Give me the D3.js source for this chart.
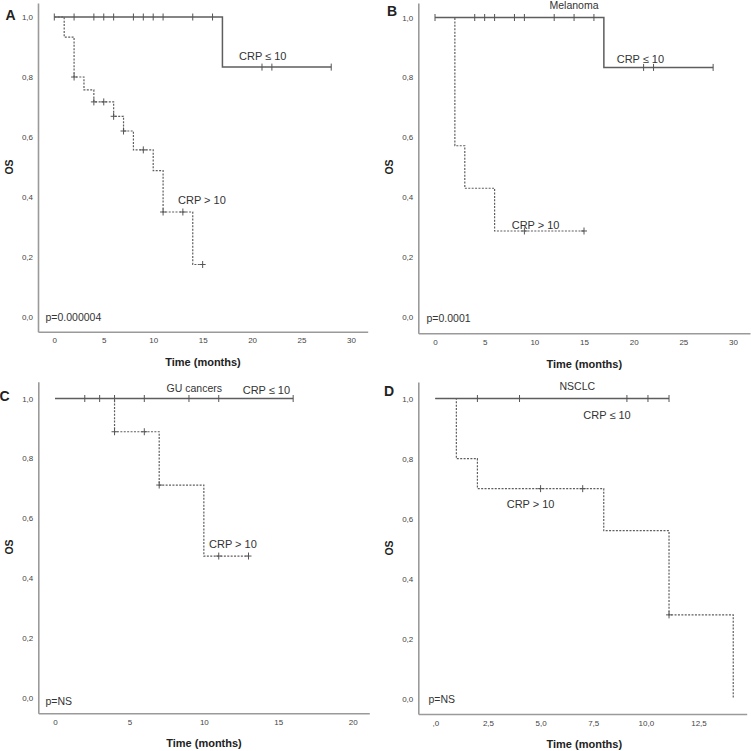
<!DOCTYPE html>
<html><head><meta charset="utf-8">
<script src="https://cdn.jsdelivr.net/npm/d3@7"></script>
<style>body{margin:0;background:#fff}svg{display:block;font-family:"Liberation Sans",Arial,sans-serif}</style>
</head><body><svg id="c" width="751" height="751"></svg>
<script>
// ---------- data ----------
const yTickValues = [0, 0.2, 0.4, 0.6, 0.8, 1.0];
const yTickLabels = ["0,0", "0,2", "0,4", "0,6", "0,8", "1,0"];
const xTicksAB = [0, 5, 10, 15, 20, 25, 30];
const xTickLabelsAB = ["0", "5", "10", "15", "20", "25", "30"];
const xTicksC = [0, 5, 10, 15, 20];
const xTickLabelsC = ["0", "5", "10", "15", "20"];
const xTicksD = [0, 2.5, 5, 7.5, 10, 12.5];
const xTickLabelsD = [",0", "2,5", "5,0", "7,5", "10,0", "12,5"];

// Panel A (all patients)
const aLowTimes = [17];
const aLowSurv = [0.833];
const aLowCens = [0, 2, 4, 5, 6, 8, 9, 10, 11, 14, 16, 21, 22, 28];
const aLowEnd = 28;
const aHighTimes = [1, 2, 3, 4, 6, 7, 8, 10, 11, 14];
const aHighSurv = [0.933, 0.80, 0.757, 0.717, 0.669, 0.62, 0.557, 0.488, 0.35, 0.175];
const aHighCens = [2, 4, 5, 6, 7, 9, 11, 13, 15];
const aHighEnd = 15;

// Panel B (melanoma)
const bLowTimes = [17];
const bLowSurv = [0.833];
const bLowCens = [0, 4, 5, 6, 8, 9, 12, 14, 16, 21, 22, 28];
const bLowEnd = 28;
const bHighTimes = [2, 3, 6];
const bHighSurv = [0.571, 0.429, 0.286];
const bHighCens = [9, 15];
const bHighEnd = 15;

// Panel C (GU cancers)
const cLowTimes = [];
const cLowSurv = [];
const cLowCens = [2, 3, 4, 6, 9, 11, 16];
const cLowEnd = 16;
const cHighTimes = [4, 7, 10];
const cHighSurv = [0.889, 0.711, 0.474];
const cHighCens = [4, 6, 7, 11, 13];
const cHighEnd = 13;

// Panel D (NSCLC)
const dLowTimes = [];
const dLowSurv = [];
const dLowCens = [2, 4, 9.1, 10.1, 11.1];
const dLowEnd = 11.1;
const dHighTimes = [1, 2, 8, 11.1, 14.15];
const dHighSurv = [0.8, 0.7, 0.56, 0.28, 0.0];
const dHighCens = [5, 7, 11.1];
const dHighEnd = 14.15;

const panelLetters = ["A", "B", "C", "D"];
const panelTitles = ["", "Melanoma", "GU cancers", "NSCLC"];
const pValues = ["p=0.000004", "p=0.0001", "p=NS", "p=NS"];
const lowLabel = "CRP \u2264 10";
const highLabel = "CRP > 10";

// ---------- layout ----------
const svg = d3.select("#c");
const LINE = "#5e5e5e", AXIS = "#9a9a9a", TXT = "#333";

function mkScale(d0, r0, d1, r1, lo, hi) {
  const s = d3.scaleLinear().domain([d0, d1]).range([r0, r1]);
  return d3.scaleLinear().domain([s.invert(lo), s.invert(hi)]).range([lo, hi]);
}

const panels = [
  { x: mkScale(0, 54.3, 30, 351, 38, 367.7), y: mkScale(0, 317, 1, 17, 331.7, 3),
    xt: xTicksAB, xl: xTickLabelsAB,
    low: [aLowTimes, aLowSurv, aLowCens, aLowEnd], high: [aHighTimes, aHighSurv, aHighCens, aHighEnd],
    letterPos: [10.5, 20], osPos: [13, 167], xTitlePos: [203, 366],
    titlePos: null, lowPos: [239, 60], highPos: [178, 204], pPos: [45.5, 320.5] },
  { x: mkScale(0, 435, 30, 733, 418.3, 750), y: mkScale(0, 316.5, 1, 17.5, 333.3, 3),
    xt: xTicksAB, xl: xTickLabelsAB,
    low: [bLowTimes, bLowSurv, bLowCens, bLowEnd], high: [bHighTimes, bHighSurv, bHighCens, bHighEnd],
    letterPos: [392, 15.5], osPos: [393, 167], xTitlePos: [584.3, 367.5],
    titlePos: [574, 9], lowPos: [616.7, 63], highPos: [511.7, 228.5], pPos: [426.5, 322] },
  { x: mkScale(0, 55, 20, 352.7, 38.3, 369.3), y: mkScale(0, 698, 1, 398.5, 713.3, 381.7),
    xt: xTicksC, xl: xTickLabelsC,
    low: [cLowTimes, cLowSurv, cLowCens, cLowEnd], high: [cHighTimes, cHighSurv, cHighCens, cHighEnd],
    letterPos: [4.5, 401], osPos: [13, 547], xTitlePos: [204, 747],
    titlePos: [194.3, 391.5], lowPos: [242.7, 394], highPos: [209, 548], pPos: [45.5, 704.5] },
  { x: mkScale(0, 435.3, 12.5, 698.5, 418.3, 746.7), y: mkScale(0, 699, 1, 398.5, 714, 382),
    xt: xTicksD, xl: xTickLabelsD,
    low: [dLowTimes, dLowSurv, dLowCens, dLowEnd], high: [dHighTimes, dHighSurv, dHighCens, dHighEnd],
    letterPos: [389, 396], osPos: [393, 548], xTitlePos: [584.3, 747.5],
    titlePos: [577.3, 390], lowPos: [583.3, 419], highPos: [506.7, 507.5], pPos: [428.5, 703] }
];

function survAt(times, surv, t) {
  let s = 1;
  times.forEach((tt, i) => { if (tt <= t) s = surv[i]; });
  return s;
}

panels.forEach((p, i) => {
  const g = svg.append("g");
  const x = p.x, y = p.y;

  // axes
  const ya = d3.axisLeft(y).tickValues(yTickValues).tickFormat((d, k) => yTickLabels[k])
    .tickSizeInner(0).tickSizeOuter(0).tickPadding(5);
  const xa = d3.axisBottom(x).tickValues(p.xt).tickFormat((d, k) => p.xl[k])
    .tickSizeInner(0).tickSizeOuter(0).tickPadding(6);
  const yg = g.append("g").attr("transform", `translate(${x.range()[0]},0)`).call(ya);
  const xg = g.append("g").attr("transform", `translate(0,${y.range()[0]})`).call(xa);
  [yg, xg].forEach(a => {
    a.select(".domain").attr("stroke", AXIS).attr("stroke-width", 1.6);
    a.selectAll("text").attr("font-size", 8).attr("fill", "#444")
      .attr("font-family", '"Liberation Sans",Arial,sans-serif');
  });

  // curves
  const line = d3.line().x(d => x(d[0])).y(d => y(d[1])).curve(d3.curveStepAfter);
  [["low", p.low, null, 1.5], ["high", p.high, "2,1.4", 1.2]].forEach(([key, c, dash, w]) => {
    const [times, surv, cens, end] = c;
    const pts = [[0, 1]].concat(times.map((t, k) => [t, surv[k]]));
    pts.push([end, surv.length ? surv[surv.length - 1] : 1]);
    g.append("path").attr("d", line(pts)).attr("fill", "none").attr("stroke", LINE)
      .attr("stroke-width", w).attr("stroke-dasharray", dash);
    cens.forEach(t => {
      const cx = x(t), cy = y(survAt(times, surv, t));
      g.append("line").attr("x1", cx).attr("x2", cx).attr("y1", cy - 3.5).attr("y2", cy + 3.5)
        .attr("stroke", "#555").attr("stroke-width", 1);
      if (key === "high") {
        g.append("line").attr("x1", cx - 3).attr("x2", cx + 3).attr("y1", cy).attr("y2", cy)
          .attr("stroke", "#555").attr("stroke-width", 1);
      }
    });
  });

  // text
  g.append("text").attr("x", p.letterPos[0]).attr("y", p.letterPos[1]).attr("text-anchor", "middle")
    .attr("font-size", 14).attr("font-weight", "bold").attr("fill", "#222").text(panelLetters[i]);
  g.append("text").attr("transform", `translate(${p.osPos[0]},${p.osPos[1]}) rotate(-90)`)
    .attr("text-anchor", "middle").attr("font-size", 10.5).attr("font-weight", "bold")
    .attr("fill", "#222").text("OS");
  g.append("text").attr("x", p.xTitlePos[0]).attr("y", p.xTitlePos[1]).attr("text-anchor", "middle")
    .attr("font-size", 11).attr("font-weight", "bold").attr("fill", "#222").text("Time (months)");
  if (p.titlePos) g.append("text").attr("x", p.titlePos[0]).attr("y", p.titlePos[1])
    .attr("text-anchor", "middle").attr("font-size", 10.5).attr("fill", TXT).text(panelTitles[i]);
  g.append("text").attr("x", p.lowPos[0]).attr("y", p.lowPos[1]).attr("font-size", 11)
    .attr("fill", TXT).text(lowLabel);
  g.append("text").attr("x", p.highPos[0]).attr("y", p.highPos[1]).attr("font-size", 11)
    .attr("fill", TXT).text(highLabel);
  g.append("text").attr("x", p.pPos[0]).attr("y", p.pPos[1]).attr("font-size", 10.5)
    .attr("fill", TXT).text(pValues[i]);
});
</script>
</body></html>
